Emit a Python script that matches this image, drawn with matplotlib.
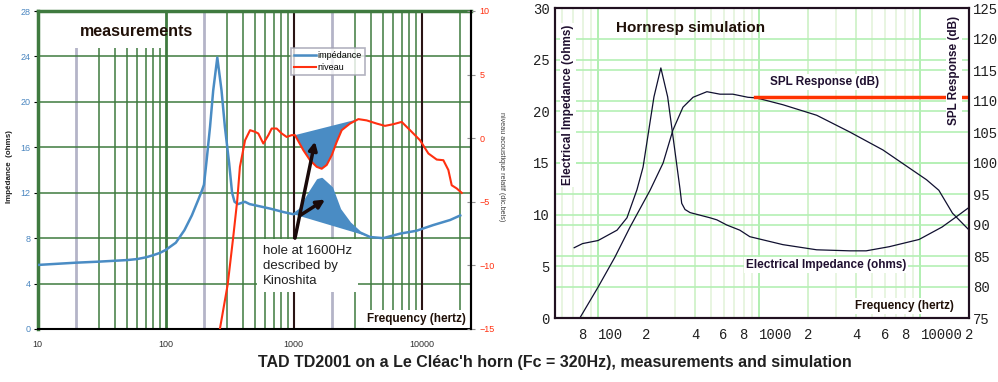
import numpy as np
import matplotlib.pyplot as plt
from matplotlib.patches import Rectangle

plt.rcParams['font.family'] = ['Liberation Sans', 'DejaVu Sans']

# --- measurements (left chart) ---
imp_freq = [10, 20, 30, 50, 60, 70, 80, 90, 100, 120, 140, 160, 180, 192, 199, 209, 222,
            235, 253, 273, 290, 313, 330, 345, 367, 416, 452, 655, 830, 1000, 1120, 1340,
            1547, 1664, 1990, 2300, 2755, 3300, 3950, 5000, 6800, 9100, 12300, 16700, 20000]
imp_ohm = [5.64, 5.84, 5.93, 6.07, 6.16, 6.31, 6.5, 6.7, 6.96, 7.6, 8.7, 10.0, 11.4, 12.2, 12.7,
           14.9, 17.8, 21.0, 23.9, 21.0, 17.8, 14.6, 12.0, 11.2, 11.0, 11.2, 11.0, 10.6, 10.3,
           10.1, 10.5, 12.0, 13.1, 13.2, 12.4, 10.5, 9.3, 8.5, 8.1, 8.0, 8.4, 8.65, 9.15, 9.6, 10.0]

niv_freq = [265, 305, 337, 362, 380, 417, 456, 499, 529, 579, 634, 673, 736, 806, 881, 964,
            1023, 1189, 1341, 1512, 1655, 1811, 1982, 2168, 2371, 2754, 3199, 3716, 4449, 5164,
            5998, 6976, 8107, 9700, 11270, 13100, 14760, 16150, 17150, 18770, 20540]
niv_db = [-15, -11.5, -7.76, -4.9, -2.25, -0.16, 0.63, 0.5, 0.37, -0.42, 0.24, 0.76, 0.76,
          0.37, 0.1, 0.24, 0.24, -0.94, -1.73, -2.25, -2.4, -2.1, -1.34, -0.29, 0.63, 1.15,
          1.5, 1.4, 1.15, 0.97, 1.1, 1.28, 0.63, -0.16, -1.2, -1.68, -1.73, -2.5, -3.7, -3.95, -4.3]

# frequency span of the "hole" shading on each curve
hole_imp = (1000, 3950)
hole_niv = (1023, 3199)

# arrows (freq, ohms): tail -> head
arrow_long = ((1023, 8.0), (1466, 16.5))
arrow_short = ((1120, 10.0), (1758, 11.4))

# --- Hornresp simulation (right chart) ---
sim_freq = [71, 80, 100, 131, 151, 174, 190, 222, 245, 270, 322, 330, 346, 372, 494, 545, 628,
            757, 873, 1400, 2270, 3640, 4600, 6400, 9800, 13600, 16700, 20000]
sim_ohm = [6.8, 7.2, 7.5, 8.5, 9.7, 12.4, 14.6, 21.4, 24.2, 21.4, 12.5, 11.1, 10.5, 10.2, 9.7,
           9.5, 9.0, 8.5, 7.87, 7.1, 6.6, 6.5, 6.5, 6.9, 7.6, 8.8, 9.8, 10.7]
spl_freq = [77, 100, 127, 158, 210, 253, 291, 336, 388, 473, 570, 685, 850, 960, 1400, 2270,
            3640, 5850, 8300, 10900, 13000, 15800, 20000]
spl_db = [75, 80, 84.8, 89.7, 95.6, 100, 105.3, 109, 110.6, 111.5, 111.1, 111.1, 110.6, 110.5,
          109.4, 107.7, 105, 102.1, 99.4, 97.3, 95.6, 91.9, 89.2]
spl_ref_freq = [940, 19500]
spl_ref_db = [110.7, 110.7]

sim_xticks = [80, 100, 200, 400, 600, 800, 1000, 2000, 4000, 6000, 8000, 10000, 20000]
sim_xlabels = ['8', '100', '2', '4', '6', '8', '1000', '2', '4', '6', '8', '10000', '2']

caption = "TAD TD2001 on a Le Cléac'h horn (Fc = 320Hz), measurements and simulation"

blue = '#4a8cc4'
red = '#ff3010'
green = '#3f7a3f'
grey = '#b4b4c8'
dark = '#2a1414'

fig = plt.figure(figsize=(9.98, 3.82), dpi=100)

# ================= left chart =================
ax1 = fig.add_axes([37.7 / 998, 53 / 382, 433.3 / 998, 318 / 382])
ax1.set_xscale('log')
ax1.set_xlim(10, 24270)
ax1.set_ylim(0, 28)

for dec in [10, 100, 1000, 10000]:
    for m in range(2, 10):
        f = m * dec
        if f > 24000:
            break
        if m == 2 and dec < 10000:
            ax1.axvline(f, color=grey, lw=2, zorder=1)
        else:
            ax1.axvline(f, color=green, lw=1.1, zorder=1)
ax1.axvline(100, color=green, lw=2, zorder=2.5)
for f in [1000, 10000]:
    ax1.axvline(f, color=dark, lw=1.5, zorder=2.5)
for y in range(4, 28, 4):
    ax1.axhline(y, color=green, lw=1.1, zorder=1)

ax1.add_patch(Rectangle((0, 0.884), 0.296, 0.116, transform=ax1.transAxes,
                        facecolor='white', edgecolor='none', zorder=2))
ax1.text(0.227, 0.937, 'measurements', transform=ax1.transAxes, ha='center', va='center',
         fontsize=11.5, fontweight='bold', color='#201008', zorder=3)

imp_f = np.array(imp_freq)
imp_v = np.array(imp_ohm)
m = (imp_f >= hole_imp[0]) & (imp_f <= hole_imp[1])
ax1.fill(imp_f[m], imp_v[m], color=blue, lw=0, zorder=3)
l_imp, = ax1.plot(imp_f, imp_v, color=blue, lw=1.8, zorder=4)

ax1.set_yticks(range(0, 29, 4))
ax1.tick_params(axis='y', colors='black', labelcolor='#4a86c0', labelsize=6.5,
                length=3, pad=2)
ax1.set_xticks([10, 100, 1000, 10000])
ax1.set_xticklabels(['10', '100', '1000', '10000'])
ax1.xaxis.set_minor_locator(plt.NullLocator())
ax1.tick_params(axis='x', length=0, labelsize=6.5, labelcolor='#303030', pad=8)
for s in ['left', 'top']:
    ax1.spines[s].set_color(green)
    ax1.spines[s].set_linewidth(2.5)
for s in ['bottom', 'right']:
    ax1.spines[s].set_color('black')
    ax1.spines[s].set_linewidth(1.5)

ax2 = ax1.twinx()
ax2.set_ylim(-15, 10)
niv_f = np.array(niv_freq)
niv_v = np.array(niv_db)
m = (niv_f >= hole_niv[0]) & (niv_f <= hole_niv[1])
ax2.fill(niv_f[m], niv_v[m], color=blue, lw=0, zorder=2)
l_niv, = ax2.plot(niv_f, niv_v, color=red, lw=1.5, zorder=3)
ax2.set_yticks(range(-15, 11, 5))
ax2.tick_params(axis='y', colors='#909090', labelcolor=red, labelsize=6.5,
                direction='inout', length=6, pad=3)
for s in ['left', 'top', 'bottom']:
    ax2.spines[s].set_visible(False)
ax2.spines['right'].set_color('black')
ax2.spines['right'].set_linewidth(1.5)

ax2.text(575, 7.4, 'hole at 1600Hz\ndescribed by\nKinoshita', transform=ax1.transData,
         ha='left', va='top', fontsize=9.5, color='#202020', linespacing=1.33, zorder=4,
         bbox=dict(facecolor='white', edgecolor='none', pad=4))
for tail, head in [arrow_long, arrow_short]:
    ax2.annotate('', xy=head, xytext=tail, xycoords=ax1.transData, textcoords=ax1.transData,
                 arrowprops=dict(arrowstyle='-|>', color='#1a0a0a', lw=2.5,
                                 mutation_scale=12, shrinkA=0, shrinkB=0), zorder=5)

ax2.text(0.988, 0.032, 'Frequency (hertz)', transform=ax2.transAxes, ha='right', va='center',
         fontsize=8.5, fontweight='bold', color='#201008', zorder=4,
         bbox=dict(facecolor='white', edgecolor='none', pad=2))

leg = ax2.legend([l_imp, l_niv], ['impédance', 'niveau'], loc='upper left',
                 bbox_to_anchor=(0.585, 0.884), fontsize=6.5, frameon=True, fancybox=False,
                 edgecolor='#a0a0b0', borderpad=0.35, handlelength=2.4, labelspacing=0.35,
                 handletextpad=0.15, borderaxespad=0)
leg.get_frame().set_linewidth(1.2)
leg.set_zorder(6)

fig.text(10 / 998, 1 - 167 / 382, 'Impédance  (ohms)', rotation=90, ha='center', va='center',
         fontsize=5.8, fontweight='bold', color='#202020')
fig.text(502 / 998, 1 - 167 / 382, 'niveau acoustique relatif (dic.bels)', rotation=270,
         ha='center', va='center', fontsize=5.2, color='#404040')

# ================= right chart =================
ax3 = fig.add_axes([555 / 998, 64 / 382, 414 / 998, 310 / 382])
ax3.set_xscale('log')
ax3.set_xlim(54, 20000)
ax3.set_ylim(0, 30)

for dec in [10, 100, 1000, 10000]:
    for mm in range(1, 10):
        f = mm * dec
        if f < 55 or f > 19900:
            continue
        if mm == 1:
            ax3.axvline(f, color='#a4eca4', lw=1.2, zorder=1)
        elif mm in (2, 4):
            ax3.axvline(f, color='#c8f0c0', lw=1.1, zorder=1)
        else:
            ax3.axvline(f, color='#e2f2d8', lw=1.1, zorder=1)
for y in range(5, 30, 5):
    ax3.axhline(y, color='#b4f0b4', lw=1.2, zorder=1)

ax3.set_xticks(sim_xticks)
ax3.set_xticklabels(sim_xlabels)
ax3.xaxis.set_minor_locator(plt.NullLocator())
ax3.set_yticks(range(0, 31, 5))
mono = ['Liberation Mono', 'DejaVu Sans Mono']
ax3.tick_params(axis='both', length=0, labelsize=10, labelcolor='#202020')
ax3.tick_params(axis='x', pad=7)
ax3.tick_params(axis='y', pad=4)
for lab in ax3.get_xticklabels() + ax3.get_yticklabels():
    lab.set_family(mono)
for lab in ax3.get_xticklabels():
    if len(lab.get_text()) > 1:
        lab.set_horizontalalignment('left')

ax4 = ax3.twinx()
ax4.set_ylim(75, 125)
for y in range(80, 125, 5):
    ax4.axhline(y, color='#b4f0b4', lw=1.2, zorder=0.5)
ax4.plot(sim_freq, sim_ohm, color='#101030', lw=0.9, transform=ax3.transData, zorder=2)
ax4.plot(spl_freq, spl_db, color='#101030', lw=0.9, zorder=2)
ax4.plot(spl_ref_freq, spl_ref_db, color='#ff3300', lw=2.5, zorder=2.5)
ax4.set_ylim(75, 125)
ax4.set_yticks(range(75, 126, 5))
ax4.tick_params(axis='y', length=0, labelsize=10, labelcolor='#202020', pad=3)
for lab in ax4.get_yticklabels():
    lab.set_family(mono)
for ax in (ax3, ax4):
    for s in ax.spines.values():
        s.set_color('#201020')
        s.set_linewidth(1.5)

tc = '#201030'
box = dict(facecolor='white', edgecolor='none', pad=1.5)
ax4.text(0.3285, 0.935, 'Hornresp simulation', transform=ax4.transAxes, ha='center',
         va='center', fontsize=11, fontweight='bold', color='#201008', zorder=3)
ax4.text(0.031, 0.687, 'Electrical Impedance (ohms)', transform=ax4.transAxes, rotation=90,
         ha='center', va='center', fontsize=8.5, fontweight='bold', color=tc, zorder=3, bbox=box)
ax4.text(0.964, 0.80, 'SPL Response (dB)', transform=ax4.transAxes, rotation=90,
         ha='center', va='center', fontsize=8.5, fontweight='bold', color=tc, zorder=3, bbox=box)
ax4.text(0.652, 0.761, 'SPL Response (dB)', transform=ax4.transAxes, ha='center',
         va='center', fontsize=8.5, fontweight='bold', color=tc, zorder=3, bbox=box)
ax4.text(0.655, 0.171, 'Electrical Impedance (ohms)', transform=ax4.transAxes, ha='center',
         va='center', fontsize=8.5, fontweight='bold', color=tc, zorder=3, bbox=box)
ax4.text(0.843, 0.039, 'Frequency (hertz)', transform=ax4.transAxes, ha='center',
         va='center', fontsize=8.5, fontweight='bold', color='#201008', zorder=3, bbox=box)

fig.text(555 / 998, 1 - 362 / 382, caption, ha='center', va='center', fontsize=11.5,
         fontweight='bold', color='#202020')

fig.savefig('out.png', dpi=100)
